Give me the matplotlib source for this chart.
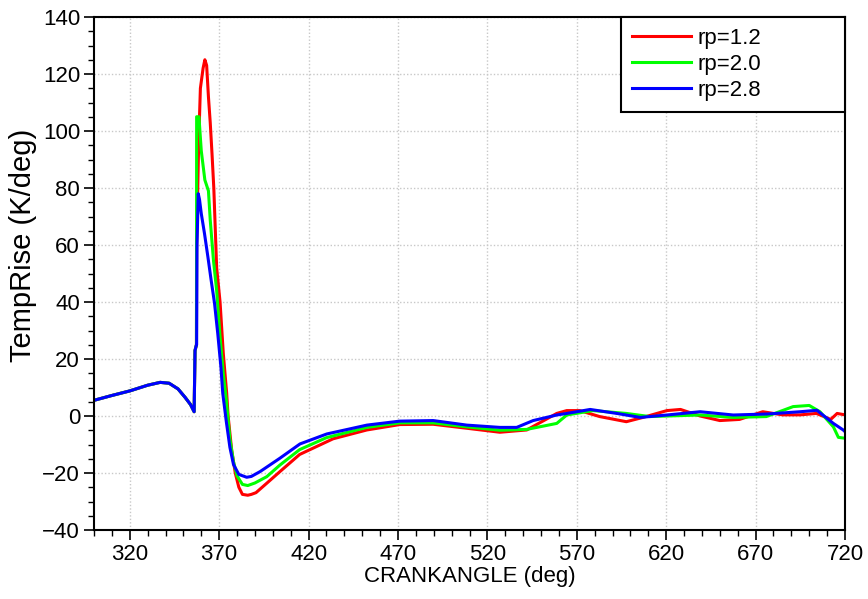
import matplotlib
matplotlib.use("Agg")
import matplotlib.pyplot as plt
from matplotlib.ticker import MultipleLocator

plt.rcParams['font.family'] = ['Liberation Sans', 'DejaVu Sans']

# Shared compression part (before ignition)
common_x = [300, 310, 320, 330, 337, 342, 347, 351, 354, 356, 356.5, 357.3]
common_y = [5.5, 7.2, 8.8, 10.8, 11.8, 11.5, 9.5, 6.5, 4.0, 1.5, 23.0, 25.0]

# rp = 1.2 (red)
red_x = [357.4, 358.5, 359.5, 361, 362, 363, 364, 365, 366, 367, 368.6, 370.5, 372.3, 374.2,
         375, 377, 379, 381, 383, 386, 388, 390.6, 396.6, 404, 415, 433.7, 452.6, 471, 489.7,
         508.5, 527, 542, 558.8, 564.4, 571.6, 582.8, 597.7, 607, 620.4, 628, 639, 650, 661,
         674, 685, 695, 704, 712, 715.6, 720]
red_y = [60, 95, 115, 122, 125, 123, 112, 103, 92, 80, 52, 40, 22, 8,
         0, -12, -20, -25, -27.5, -27.8, -27.5, -26.9, -23.6, -19.5, -13.5, -8.0, -4.9, -3.0, -2.9,
         -4.3, -5.7, -4.9, 0.9, 1.9, 1.9, -0.2, -2.0, -0.5, 1.9, 2.3, 0.0, -1.6, -1.2,
         1.5, 0.4, 0.4, 0.9, -1.2, 0.9, 0.4]

# rp = 2.0 (green)
green_x = [357.4, 358.7, 360, 362, 364, 365, 366.8, 368.6, 370.5, 372.3, 374, 376, 378, 380,
           383, 386, 390, 396.6, 404, 415, 430, 452.6, 471, 489.7, 508.5, 527, 542, 558.8,
           564.4, 579, 597.7, 610.8, 639, 657.5, 676, 691, 700, 706, 713.5, 716.3, 720]
green_y = [105, 105, 93, 82.8, 79, 68.8, 54.7, 44, 27.7, 15, 5.6, -8, -16, -21,
           -24, -24.4, -23.5, -21.3, -17.2, -11.8, -7.6, -4.0, -2.4, -2.4, -3.8, -5.0, -4.7, -2.6,
           0.35, 1.9, 0.9, -0.2, 0.35, -0.5, -0.2, 3.3, 3.7, 1.5, -3.8, -7.5, -7.8]

# rp = 2.8 (blue)
blue_x = [357.4, 357.6, 358.3, 359, 360, 361.8, 363.7, 365.5, 367.4, 369.2, 371, 372, 374, 376,
          378, 381, 385.4, 388, 392.9, 404, 415.2, 430.2, 452.6, 471, 489.7, 508.5, 527, 536.4,
          545.6, 558.8, 564.4, 577.5, 592.4, 605.5, 620.4, 639, 657.5, 676.3, 695, 704.3,
          713.5, 719, 720]
blue_y = [25, 60, 78, 76, 71, 64, 55.8, 47.7, 39.6, 29, 17, 8, -2, -11,
          -17, -20.5, -21.5, -21.2, -19.5, -14.8, -9.8, -6.3, -3.2, -1.8, -1.6, -3.2, -4.0, -4.0,
          -1.6, 0.35, 0.9, 2.3, 0.9, -0.5, 0.35, 1.5, 0.35, 0.7, 1.5, 2.0,
          -2.6, -4.9, -5.5]

fig = plt.figure(figsize=(8.68, 5.99), dpi=100)
ax = fig.add_axes([94/868, 1-530/599, (845-94)/868, (530-17)/599])

lw = 2.2
ax.plot(common_x + red_x, common_y + red_y, color='#ff0000', lw=lw, label='rp=1.2')
ax.plot(common_x + green_x, common_y + green_y, color='#00ff00', lw=lw, label='rp=2.0')
ax.plot(common_x + blue_x, common_y + blue_y, color='#0000ff', lw=lw, label='rp=2.8')

ax.set_xlim(300, 720)
ax.set_ylim(-40, 140)
ax.xaxis.set_major_locator(MultipleLocator(50))
ax.xaxis.set_minor_locator(MultipleLocator(10))
ax.yaxis.set_major_locator(MultipleLocator(20))
ax.yaxis.set_minor_locator(MultipleLocator(5))
ax.set_xticks([320, 370, 420, 470, 520, 570, 620, 670, 720])

ax.grid(True, which='major', color='#c8c8c8', linestyle=(0, (1, 1.5)), linewidth=1.0)
ax.tick_params(which='major', direction='out', length=7, width=1.2, colors='black',
               labelsize=16, pad=3)
ax.tick_params(which='minor', direction='out', length=4, width=1.0, colors='black')
for s in ax.spines.values():
    s.set_linewidth(1.5)
    s.set_color('black')

ax.set_xlabel('CRANKANGLE (deg)', fontsize=16, labelpad=1)
ax.set_ylabel('TempRise (K/deg)', fontsize=21)
ax.yaxis.set_label_coords((37 - 94) / 751, (530 - 245) / 513)

leg = ax.legend(loc='upper left', bbox_to_anchor=((621-94)/751, 0, 1-(621-94)/751, 1),
                mode='expand', borderaxespad=0, fancybox=False, framealpha=1,
                edgecolor='black', fontsize=16, handlelength=2.65, handletextpad=0.3,
                labelspacing=0.22, borderpad=0.5)
leg.get_frame().set_linewidth(1.5)
for l in leg.get_lines():
    l.set_linewidth(2.2)

fig.savefig('out.png', dpi=100)
